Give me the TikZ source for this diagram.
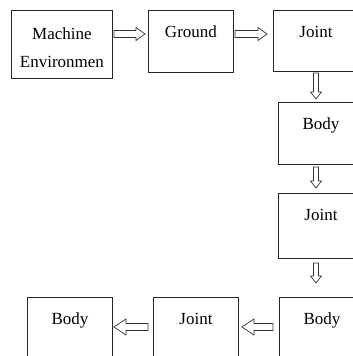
\documentclass[tikz,border=0pt]{standalone}
\usepackage{fontspec}
\setmainfont{Liberation Serif}
\usetikzlibrary{calc}
\tikzset{
    blk/.style = {rectangle, line width=0.9pt, draw=black!85, inner sep=0pt, anchor=north west, minimum width=85pt, minimum height=62pt},
    blktext/.style = {anchor=north, yshift=-16pt, inner sep=0pt, align=center, font=\fontsize{17}{20}\selectfont},
    % hollow block arrow: shaft half width, head half width, head length
    hollow/.style n args = {3}{line width=0.7pt, draw=black!80, fill=white,
        to path={let \p1=(\tikztostart), \p2=(\tikztotarget),
            \n1={veclen(\x2-\x1,\y2-\y1)}, \n2={atan2(\y2-\y1,\x2-\x1)} in
            [shift={(\p1)}, rotate=\n2]
            (0pt,-#1) -- ({\n1-#3},-#1) -- ({\n1-#3},-#2) -- ({\n1+0pt},0pt)
            -- ({\n1-#3},#2) -- ({\n1-#3},#1) -- (0pt,#1) -- cycle}},
    harrow/.style = {hollow={3.5pt}{6.5pt}{9pt}},
    larrow/.style = {hollow={3.5pt}{8pt}{12pt}},
    varrow/.style = {hollow={2.5pt}{5.5pt}{7pt}},
}
\begin{document}
\begin{tikzpicture}[x=1pt,y=-1pt]
\clip (0,0) rectangle (353,356);
% top row
\node[blk, minimum width=101pt, minimum height=68pt, label={[blktext,yshift=-2pt]north:Machine\\[8pt]Environmen}] at (11,10) (me) {};
\node[blk, label={[blktext]north:Ground}] at (148,10) (gr) {};
\node[blk, minimum height=61pt, label={[blktext]north:Joint}] at (273,10) (j1) {};
% right column
\node[blk, label={[blktext]north:Body}] at (278,102) (b1) {};
\node[blk, minimum height=65pt, label={[blktext]north:Joint}] at (278,193) (j2) {};
% bottom row
\node[blk, label={[blktext]north:Body}] at (279,297) (b2) {};
\node[blk, label={[blktext]north:Joint}] at (153,297) (j3) {};
\node[blk, label={[blktext]north:Body}] at (27,297) (b3) {};
%
\draw[harrow] ([xshift=1pt,yshift=-24pt]me.north east) to ([xshift=-3pt,yshift=-24pt]gr.north west);
\draw[harrow] ([xshift=1pt,yshift=-24pt]gr.north east) to ([xshift=-6pt,yshift=-24pt]j1.north west);
\draw[varrow] ($(j1.south)+(0,1)$) to ($(b1.north -| j1.south)+(0,-3)$);
\draw[varrow] ($(b1.south -| j1.south)+(0,2)$) to ($(j2.north -| j1.south)+(0,-5)$);
\draw[varrow] ($(j2.south -| j1.south)+(0,4)$) to ($(b2.north -| j1.south)+(0,-14)$);
\draw[larrow] ([xshift=-6pt,yshift=-30pt]b2.north west) to ([xshift=3pt,yshift=-30pt]j3.north east);
\draw[larrow] ([xshift=-5pt,yshift=-30pt]j3.north west) to ([xshift=1pt,yshift=-30pt]b3.north east);
\end{tikzpicture}
\end{document}
